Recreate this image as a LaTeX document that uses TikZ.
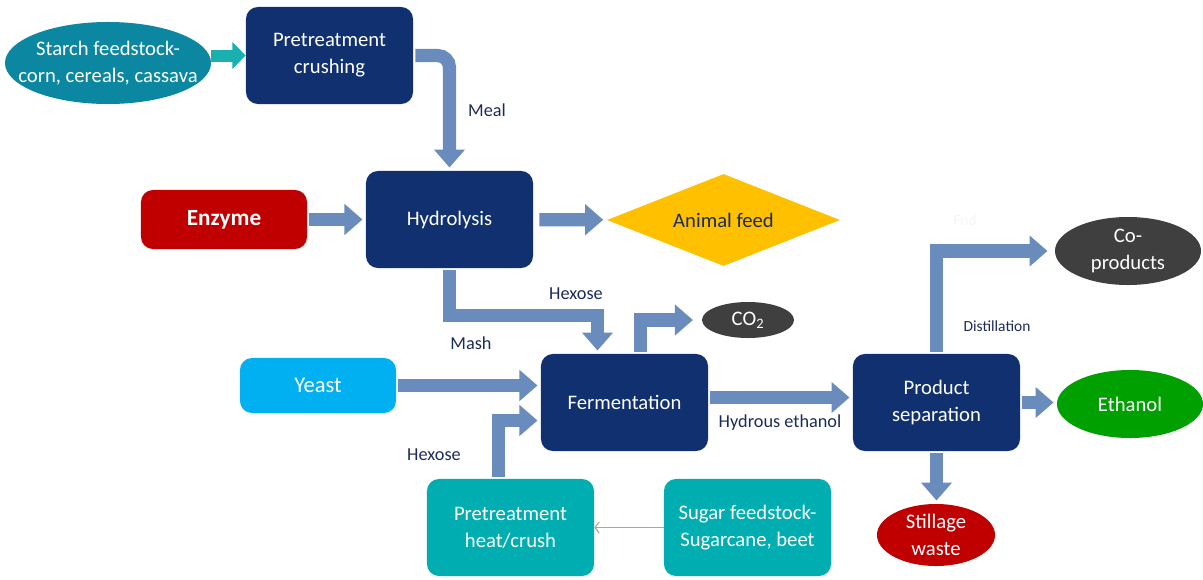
\documentclass[tikz,border=0pt]{standalone}
\usepackage{fontspec}
\setmainfont{Carlito}
\usepackage{tikz}
\usetikzlibrary{arrows.meta}
\usetikzlibrary{shapes.geometric}
\usetikzlibrary{calc}
\definecolor{navy}{HTML}{10306F}
\definecolor{flowblue}{HTML}{6A8CBC}
\definecolor{labelblue}{HTML}{1C2B5A}
\definecolor{starchteal}{HTML}{0C87A2}
\definecolor{arrowteal}{HTML}{1AB0B0}
\definecolor{sugarteal}{HTML}{00AEB2}
\definecolor{yeastblue}{HTML}{00B0F0}
\definecolor{deepred}{HTML}{C00000}
\definecolor{feedyellow}{HTML}{FFC000}
\definecolor{ethanolgreen}{HTML}{00A000}
\definecolor{darkblob}{HTML}{3F3F3F}

\begin{document}
\begin{tikzpicture}[x=0.025cm, y=-0.025cm, font=\fontsize{14.7}{19}\selectfont]
	\tikzstyle{box}=[rectangle, rounded corners=0.3cm, fill=navy, text=white, minimum width=4.175cm, minimum height=2.425cm, inner sep=0pt, align=center]
	\tikzstyle{blob}=[ellipse, text=white, inner sep=-20pt, align=center]
	\tikzstyle{flow}=[draw=flowblue, line width=0.33cm, -{Triangle[width=0.75cm,length=0.45cm]}, shorten >=0.08cm, shorten <=0.05cm]
	\tikzstyle{annot}=[text=labelblue, font=\fontsize{13}{15}\selectfont]

	\useasboundingbox (0,0) rectangle (1203,579);

	% Draw starch line
	\node[blob, fill=starchteal, minimum width=5.15cm, minimum height=2.05cm] (starch) at (108,63) {Starch feedstock-\\corn, cereals, cassava};
	\node[box] (crushing) at (329.5,55.5) {Pretreatment\\crushing};
	\node[box] (hydrolysis) at (449.5,219.5) {Hydrolysis};
	\node[box, fill=deepred, minimum width=4.15cm, minimum height=1.475cm, font=\fontsize{16.5}{19}\selectfont\bfseries] (enzyme) at (224,219.5) {Enzyme};
	\node[diamond, aspect=2.5, fill=feedyellow, text=labelblue, minimum width=5.825cm, minimum height=2.3cm, inner sep=0pt] (feed) at (723.5,220) {Animal feed};

	% Draw fermentation and separation
	\node[box] (fermentation) at (624.5,402.5) {Fermentation};
	\node[box, fill=yeastblue, minimum width=3.9cm, minimum height=1.375cm, font=\fontsize{16}{19}\selectfont] (yeast) at (318,385.5) {Yeast};
	\node[blob, fill=darkblob, minimum width=2.3cm, minimum height=0.9cm] (cotwo) at (748,320) {CO\textsubscript{2}};
	\node[box] (separation) at (936.5,402.5) {Product\\separation};
	\node[blob, fill=darkblob, minimum width=3.65cm, minimum height=1.7cm] (coproducts) at (1128,251) {Co-\\products};
	\node[blob, fill=ethanolgreen, minimum width=3.65cm, minimum height=1.7cm] (ethanol) at (1130,404) {Ethanol};
	\node[blob, fill=deepred, minimum width=2.95cm, minimum height=1.55cm] (stillage) at (936,535) {Stillage\\waste};

	% Draw sugar line
	\node[box, fill=sugarteal] (heatcrush) at (510.5,527.5) {Pretreatment\\heat/crush};
	\node[box, fill=sugarteal] (sugar) at (747.5,527.5) {Sugar feedstock-\\Sugarcane, beet};

	% Draw labels
	\node[annot] (meal) at (487,110) {Meal};
	\node[annot] (hexosetop) at (576,294) {Hexose};
	\node[annot] (mash) at (471,343) {Mash};
	\node[annot] (hexosebottom) at (434,455) {Hexose};
	\node[annot] (hydrous) at (780,423) {Hydrous ethanol};
	\node[annot, font=\fontsize{11}{13}\selectfont] (distillation) at (997,326) {Distillation};
	\node[annot, text=black!4, font=\fontsize{11}{13}\selectfont] (faint) at (965,220) {Fnd};

	% Draw arrows
	\draw[draw=arrowteal, line width=0.3cm, -{Triangle[width=0.65cm,length=0.33cm]}] (crushing.west -| starch.east) -- (crushing.west);
	\draw[flow, rounded corners=0.3cm] (crushing.east) -| (hydrolysis.north);
	\draw[flow] (enzyme) -- (hydrolysis);
	\draw[flow, shorten <=0.15cm, shorten >=0.1cm] (hydrolysis) -- (feed);
	\coordinate (mashbend) at ($(fermentation.north)+(-27,-38)$);
	\draw[flow] (hydrolysis.south) |- (mashbend) -- (mashbend |- fermentation.north);
	\draw[flow] (yeast.east) -- (yeast.east -| fermentation.west);
	\draw[flow] ($(heatcrush.north)+(-12,0)$) |- ($(fermentation.west)+(0,18)$);
	\draw[flow, shorten >=0.22cm] ($(fermentation.north)+(16,0)$) |- (cotwo.west);
	\draw[flow] ($(fermentation.east)+(0,-5)$) -- ($(separation.west)+(0,-5)$);
	\draw[flow, shorten >=0.18cm] (separation.north) |- (coproducts.west);
	\draw[flow] (separation.east) -- (separation.east -| ethanol.west);
	\draw[flow] (separation.south) -- (separation.south |- stillage.north);
	\draw[draw=black!35, line width=0.8pt, -{Straight Barb[length=3pt,width=8pt]}] (sugar) -- (heatcrush);

\end{tikzpicture}
\end{document}
